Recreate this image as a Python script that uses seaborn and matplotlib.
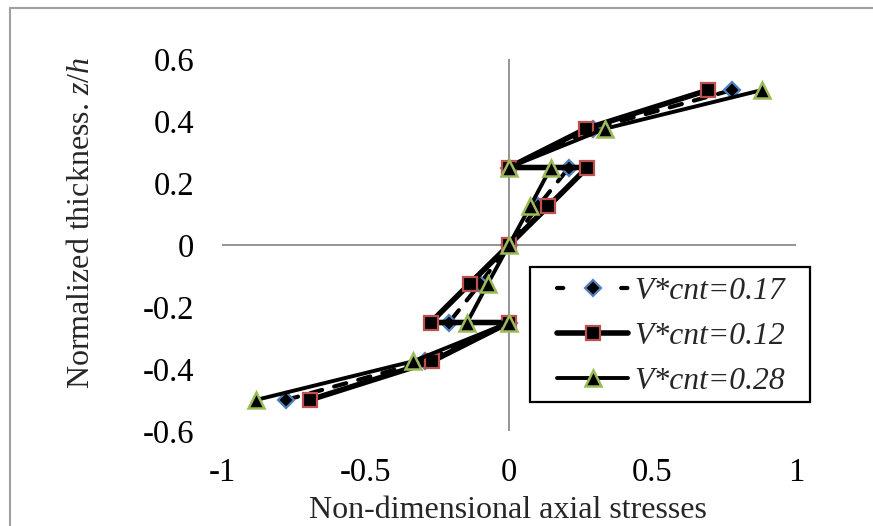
import matplotlib
matplotlib.use("Agg")
import matplotlib.pyplot as plt
from matplotlib.lines import Line2D
from matplotlib.patches import Rectangle
import seaborn as sns
import pandas as pd

# Through-thickness positions (layer interfaces, jump at +/-0.25)
z_over_h = [-0.5, -0.375, -0.25, -0.25, -0.125, 0.0, 0.125, 0.25, 0.25, 0.375, 0.5]

# Non-dimensional axial stress for each CNT volume fraction
stress_017 = [-0.777, -0.293, 0.0, -0.209, -0.101, 0.0, 0.101, 0.209, 0.0, 0.293, 0.777]
stress_012 = [-0.695, -0.268, 0.0, -0.273, -0.137, 0.0, 0.137, 0.273, 0.0, 0.268, 0.695]
stress_028 = [-0.882, -0.334, 0.0, -0.146, -0.074, 0.0, 0.074, 0.146, 0.0, 0.334, 0.882]

series_labels = ["V*cnt=0.17", "V*cnt=0.12", "V*cnt=0.28"]

x_ticks = [-1, -0.5, 0, 0.5, 1]
x_tick_labels = ["-1", "-0.5", "0", "0.5", "1"]
y_ticks = [-0.6, -0.4, -0.2, 0, 0.2, 0.4, 0.6]
y_tick_labels = ["-0.6", "-0.4", "-0.2", "0", "0.2", "0.4", "0.6"]

sns.set_theme(style="white")
plt.rcParams["font.family"] = ["Liberation Serif", "DejaVu Serif"]
plt.rcParams["mathtext.fontset"] = "custom"
plt.rcParams["mathtext.rm"] = "Liberation Serif"
plt.rcParams["mathtext.it"] = "Liberation Serif:italic"
plt.rcParams["axes.unicode_minus"] = False

W, H = 873, 526
fig = plt.figure(figsize=(W / 100, H / 100), dpi=100)
fig.patch.set_facecolor("white")

# plot area in pixels: x from 222 to 796, y from 59 to 431
ax = fig.add_axes([222 / W, 1 - 431 / H, (796 - 222) / W, (431 - 59) / H])
ax.set_xlim(-1, 1)
ax.set_ylim(-0.6, 0.6)
for s in ax.spines.values():
    s.set_visible(False)
ax.set_facecolor("none")

axis_grey = "#8c8c8c"
ax.axhline(0, color=axis_grey, lw=1.3, zorder=1)
ax.axvline(0, color=axis_grey, lw=1.3, zorder=1)

blue = "#4F81BD"
red = "#C0504D"
green = "#9BBB59"

styles = [
    dict(lw=3.0, linestyle=(0, (3, 3)), dash_capstyle="round", marker="D", ms=8,
         mec=blue, mew=1.6),
    dict(lw=4.0, linestyle="-", solid_capstyle="round", marker="s", ms=10.5,
         mec=red, mew=1.6),
    dict(lw=2.8, linestyle="-", solid_capstyle="round", marker="^", ms=11,
         mec=green, mew=1.8),
]

for vals, st in zip([stress_017, stress_012, stress_028], styles):
    df = pd.DataFrame({"stress": vals, "z": z_over_h})
    sns.lineplot(data=df, x="stress", y="z", ax=ax, sort=False, estimator=None,
                 color="black", mfc="black", legend=False, zorder=3, **st)

ax.set_xticks(x_ticks)
ax.set_xticklabels(x_tick_labels)
ax.set_yticks(y_ticks)
ax.set_yticklabels(y_tick_labels)
ax.tick_params(axis="both", length=0, labelsize=23.5, colors="black")
ax.tick_params(axis="x", pad=19)
ax.tick_params(axis="y", pad=20)
ax.set_xlabel("")
ax.set_ylabel("")

fig.text(508 / W, 1 - 510 / H, "Non-dimensional axial stresses", ha="center",
         va="center", fontsize=23)
fig.text(82 / W, 1 - 57 / H, "Normalized thickness. $z/h$", ha="center",
         va="top", rotation=90, fontsize=23)

# legend box with white fill, drawn under the legend entries
ax.add_patch(Rectangle((530 / W, 1 - 402 / H), 280 / W, 135 / H,
                       transform=fig.transFigure, clip_on=False, facecolor="white",
                       edgecolor="black", lw=1.6, zorder=4))
legend_styles = [dict(st) for st in styles]
legend_styles[0]["linestyle"] = (0, (1.5, 6.2))
handles = [Line2D([], [], color="black", mfc="black", **st) for st in legend_styles]
leg = ax.legend(handles, series_labels, loc="upper left",
                bbox_to_anchor=(557 / W, 1 - 277 / H), bbox_transform=fig.transFigure,
                frameon=False, borderaxespad=0, borderpad=0,
                handlelength=2.25, handletextpad=0.2, labelspacing=0.5,
                prop={"family": "Liberation Serif", "style": "italic", "size": 22.8})
leg.set_zorder(5)

# chart border (left and top edges)
fig.lines.append(Line2D([10 / W, 10 / W], [0, 1 - 8 / H], transform=fig.transFigure,
                        color="#a0a0a0", lw=1.5))
fig.lines.append(Line2D([10 / W, 1], [1 - 8 / H, 1 - 8 / H], transform=fig.transFigure,
                        color="#a0a0a0", lw=1.5))

fig.savefig("out.png", dpi=100, facecolor="white")
